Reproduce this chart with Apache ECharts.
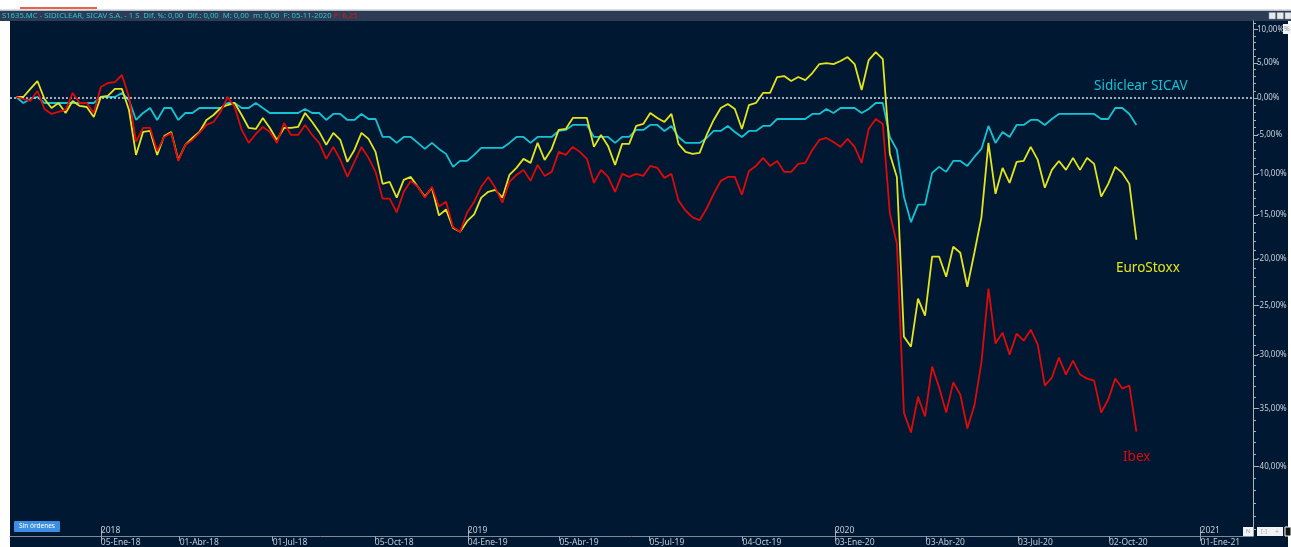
<!DOCTYPE html>
<html><head><meta charset="utf-8">
<script src="https://cdn.jsdelivr.net/npm/echarts@6/dist/echarts.min.js"></script>
<style>html,body{margin:0;padding:0;background:#fff}#c{width:1291px;height:547px}</style>
</head><body><div id="c"></div>
<script>
// Weekly closes, % change, first point is 12 weeks before 05-Ene-18 (week 0)
const firstWeek = -12;
const sidiclear = [
 0.14,-0.69,-0.14,0.14,-0.69,-0.69,-0.69,-0.69,-0.69,-0.69,
 -0.69,-0.69,0.14,0.14,0.14,0.70,-0.28,-3.00,-2.06,-1.38,
 -3.00,-1.38,-1.38,-3.00,-2.06,-2.06,-1.38,-1.38,-1.38,-1.38,
 -0.69,-0.69,-1.38,-1.38,-0.69,-1.38,-2.06,-2.06,-2.06,-2.06,
 -2.06,-1.51,-2.06,-2.06,-3.00,-2.19,-2.19,-3.00,-3.00,-2.19,
 -2.87,-2.87,-5.26,-5.26,-6.04,-5.26,-5.26,-6.04,-6.82,-6.04,
 -6.82,-7.46,-9.11,-8.36,-8.36,-7.59,-6.69,-6.69,-6.69,-6.69,
 -6.04,-5.26,-5.26,-6.04,-5.26,-5.26,-5.26,-4.47,-4.33,-3.67,
 -3.67,-3.67,-5.26,-5.26,-5.26,-6.04,-5.26,-5.26,-4.33,-4.33,
 -3.67,-3.67,-4.47,-3.80,-5.26,-6.04,-6.04,-6.04,-5.39,-4.47,
 -4.47,-3.80,-4.60,-5.26,-4.47,-4.47,-3.80,-3.80,-2.87,-2.87,
 -2.87,-2.87,-2.87,-2.19,-2.19,-1.51,-2.06,-1.38,-1.38,-1.38,
 -2.06,-1.51,-0.69,-0.69,-5.26,-6.95,-12.79,-15.82,-13.74,-13.74,
 -9.87,-9.11,-9.74,-8.36,-8.36,-8.99,-7.85,-6.82,-3.80,-6.04,
 -4.60,-5.26,-3.67,-3.67,-3.00,-3.00,-3.67,-2.87,-2.19,-2.19,
 -2.19,-2.19,-2.19,-2.19,-2.87,-2.87,-1.38,-1.38,-2.19,-3.67
];
const eurostoxx = [
 0.14,0.14,1.26,2.38,-0.14,-1.38,-0.69,-2.06,-0.41,-1.10,
 -1.24,-2.60,0.14,0.28,1.26,1.26,-1.65,-7.59,-4.60,-4.47,
 -7.59,-5.13,-4.60,-8.23,-6.30,-5.39,-4.60,-3.00,-2.33,-1.38,
 -0.97,-0.69,-2.33,-4.07,-4.20,-2.73,-4.07,-5.65,-4.07,-4.07,
 -3.94,-2.06,-3.27,-4.60,-6.30,-4.73,-5.65,-8.48,-6.95,-4.73,
 -5.52,-7.20,-11.23,-10.98,-12.91,-10.74,-10.37,-11.59,-12.79,-11.71,
 -15.03,-14.33,-16.50,-16.94,-15.71,-14.91,-12.91,-12.20,-11.96,-12.91,
 -10.12,-9.24,-8.10,-8.61,-6.04,-8.23,-6.82,-4.33,-4.20,-2.73,
 -2.73,-2.73,-6.56,-5.00,-6.43,-8.86,-6.17,-6.17,-3.80,-3.54,
 -2.06,-2.73,-3.27,-2.19,-6.17,-7.20,-7.46,-7.33,-5.00,-3.00,
 -1.38,-0.83,-1.51,-4.20,-0.97,-0.69,0.70,0.70,2.95,3.09,
 2.38,2.95,2.52,3.52,4.82,4.97,4.82,5.26,5.84,4.82,
 1.11,5.40,6.58,5.55,-7.46,-10.37,-28.18,-29.17,-24.30,-26.06,
 -19.76,-19.76,-21.96,-18.65,-19.32,-23.03,-19.32,-15.26,-6.04,-12.44,
 -9.24,-11.11,-8.48,-8.36,-6.56,-8.23,-11.71,-9.49,-8.36,-9.49,
 -7.97,-9.49,-7.97,-8.74,-12.79,-11.23,-9.11,-9.87,-11.23,-17.85
];
const ibex = [
 0.14,-0.14,-0.41,0.97,-1.51,-2.19,-1.92,-1.65,0.70,-0.69,
 -0.69,-2.06,1.53,2.10,2.24,3.24,0.14,-5.91,-4.07,-4.07,
 -7.08,-5.26,-4.73,-8.36,-6.30,-5.65,-4.73,-3.67,-3.27,-1.92,
 0.14,-1.24,-4.33,-6.04,-4.87,-3.94,-4.60,-6.04,-3.40,-5.00,
 -5.00,-3.67,-5.00,-6.04,-8.10,-6.56,-8.23,-10.37,-8.48,-6.56,
 -7.97,-9.74,-13.03,-13.03,-14.68,-12.20,-10.86,-11.59,-12.91,-11.59,
 -13.98,-13.39,-16.38,-16.94,-14.68,-13.39,-11.59,-10.37,-11.71,-13.51,
 -10.98,-10.12,-9.49,-10.86,-8.86,-10.24,-9.74,-7.20,-7.59,-6.56,
 -7.20,-8.10,-11.11,-9.49,-10.37,-12.20,-9.99,-10.37,-9.99,-10.24,
 -8.99,-9.24,-10.49,-9.99,-13.27,-14.45,-15.26,-15.60,-14.21,-12.44,
 -10.86,-10.37,-10.37,-12.56,-9.62,-8.99,-7.97,-8.99,-8.36,-9.74,
 -9.74,-8.74,-8.61,-6.95,-5.65,-5.39,-5.91,-6.56,-5.52,-6.56,
 -8.61,-4.20,-2.87,-3.54,-14.79,-18.31,-35.36,-37.12,-33.91,-35.71,
 -31.10,-33.08,-35.36,-32.61,-33.72,-36.77,-34.73,-30.72,-23.24,-28.87,
 -27.78,-29.95,-27.88,-28.58,-27.48,-28.97,-32.89,-32.14,-30.24,-31.86,
 -30.53,-31.86,-32.24,-32.43,-35.36,-34.18,-32.24,-33.17,-32.89,-37.04
];
const quarterTickWeeks  = [0, 11.2, 24.4, 38.9, 52.1, 65.1, 77.9, 91.1, 104.2, 117.1, 130.2, 143.1, 156.1];
const quarterTickLabels = ['05-Ene-18','01-Abr-18','01-Jul-18','05-Oct-18','04-Ene-19','05-Abr-19','05-Jul-19','04-Oct-19','03-Ene-20','03-Abr-20','03-Jul-20','02-Oct-20','01-Ene-21'];
const yearTickWeeks  = [0, 52.1, 104.2, 156.1];
const yearTickLabels = ['2018','2019','2020','2021'];
const yTickPct = [10, 5, 0, -5, -10, -15, -20, -25, -30, -35, -40];
const yRangePct = [-45.53, 11.27];
const xRangeWeeks = [-12.89, 163.55];

const toAxis = p => Math.log(1 + p / 100);
const minorPct = [];
for (let p = 11; p >= -45; p--) minorPct.push(p);
const pairs = arr => arr.map((v, k) => [firstWeek + k, toAxis(v)]);
const lookup = (vals, labels) => v => {
  const k = vals.findIndex(w => Math.abs(w - v) < 1e-6);
  return k >= 0 ? labels[k] : '';
};

const FONT = 'Noto Sans';
const C_CYAN = '#14c3d3', C_YEL = '#e4e41c', C_RED = '#de0a0a';
const chart = echarts.init(document.getElementById('c'), null, {renderer: 'canvas'});
chart.setOption({
  animation: false,
  backgroundColor: '#ffffff',
  textStyle: {fontFamily: FONT},
  grid: {left: 10, right: 38, top: 21, bottom: 11, containLabel: false},
  xAxis: [{
    type: 'value', min: xRangeWeeks[0], max: xRangeWeeks[1],
    splitLine: {show: false},
    axisLine: {show: true, onZero: false, lineStyle: {color: '#7d8a9c', width: 1}},
    axisTick: {show: true, length: 5, customValues: quarterTickWeeks, lineStyle: {color: '#9aa6b4'}},
    axisLabel: {customValues: quarterTickWeeks, formatter: lookup(quarterTickWeeks, quarterTickLabels),
      color: '#c4ccd6', fontSize: 8.5, align: 'left', margin: 2, fontFamily: FONT}
  }, {
    type: 'value', min: xRangeWeeks[0], max: xRangeWeeks[1], position: 'bottom', offset: 0,
    splitLine: {show: false}, axisLine: {show: false, onZero: false},
    axisTick: {show: true, inside: true, length: 9, customValues: yearTickWeeks, lineStyle: {color: '#9aa6b4'}},
    axisLabel: {inside: true, customValues: yearTickWeeks, formatter: lookup(yearTickWeeks, yearTickLabels),
      color: '#c4ccd6', fontSize: 8.5, align: 'left', margin: 1, fontFamily: FONT}
  }],
  yAxis: [{
    type: 'value', position: 'right', offset: 0,
    min: toAxis(yRangePct[0]), max: toAxis(yRangePct[1]),
    splitLine: {show: false},
    axisLine: {show: true, onZero: false, lineStyle: {color: '#a9b2be', width: 1}},
    axisTick: {show: true, length: 5, customValues: yTickPct.map(toAxis), lineStyle: {color: '#a9b2be'}},
    axisLabel: {customValues: yTickPct.map(toAxis), color: '#c8d0da', fontSize: 8, margin: 4, fontFamily: FONT,
      formatter: v => Math.round((Math.exp(v) - 1) * 100) + ',00%'}
  }, {
    type: 'value', position: 'right', offset: 0,
    min: toAxis(yRangePct[0]), max: toAxis(yRangePct[1]),
    splitLine: {show: false}, axisLine: {show: false, onZero: false}, axisLabel: {show: false},
    axisTick: {show: true, length: 3, customValues: minorPct.map(toAxis), lineStyle: {color: '#a9b2be'}}
  }],
  series: [
    {name: 'Sidiclear SICAV', type: 'line', data: pairs(sidiclear), showSymbol: false, symbol: 'none',
     lineStyle: {color: C_CYAN, width: 1.8}, z: 3,
     markLine: {silent: true, symbol: 'none', label: {show: false},
       lineStyle: {color: '#d4dbe4', type: [2, 2], width: 1.6}, data: [{yAxis: 0}]}},
    {name: 'EuroStoxx', type: 'line', data: pairs(eurostoxx), showSymbol: false, symbol: 'none',
     lineStyle: {color: C_YEL, width: 1.8}, z: 4},
    {name: 'Ibex', type: 'line', data: pairs(ibex), showSymbol: false, symbol: 'none',
     lineStyle: {color: C_RED, width: 1.8}, z: 5}
  ],
  graphic: [
    {type: 'rect', z: -10, shape: {x: 10, y: 21, width: 1278, height: 526}, style: {fill: '#011833'}},
    {type: 'rect', z: -10, shape: {x: 0, y: 11, width: 1291, height: 10}, style: {fill: '#2d3c55'}},
    {type: 'rect', z: -10, shape: {x: 0, y: 9.5, width: 1291, height: 1.5}, style: {fill: '#b8bec6'}},
    {type: 'rect', z: -10, shape: {x: 20, y: 7, width: 77, height: 2}, style: {fill: '#e8624a'}},
    {type: 'text', z: 50, x: 2, y: 16, style: {
      text: '{c|S1635.MC - SIDICLEAR, SICAV S.A. - 1 S  Dif. %: 0,00  Dif.: 0,00  M: 0,00  m: 0,00  F: 05-11-2020} {r|P: 6,25}',
      verticalAlign: 'middle', font: '7.7px "Noto Sans"',
      rich: {c: {fill: '#2cc4d6', fontSize: 7.7, fontFamily: FONT}, r: {fill: '#e01818', fontSize: 7.7, fontFamily: FONT}}}},
    {type: 'rect', z: 50, shape: {x: 1269, y: 12.5, width: 6.5, height: 6.5}, style: {fill: '#e6e9ee', stroke: '#8d96a3', lineWidth: 0.5}},
    {type: 'rect', z: 50, shape: {x: 1277, y: 12.5, width: 6.5, height: 6.5}, style: {fill: '#e6e9ee', stroke: '#8d96a3', lineWidth: 0.5}},
    {type: 'rect', z: 50, shape: {x: 1285, y: 12.5, width: 6, height: 6.5}, style: {fill: '#e6e9ee', stroke: '#8d96a3', lineWidth: 0.5}},
    {type: 'rect', z: 50, shape: {x: 1283, y: 24, width: 8, height: 10}, style: {fill: '#f2f4f6'}},
    {type: 'text', z: 51, x: 1284, y: 29, style: {text: '%', font: '7px "Noto Sans"', fill: '#8a929c', verticalAlign: 'middle'}},
    {type: 'rect', z: 50, shape: {x: 14, y: 521, width: 46, height: 11, r: 1}, style: {fill: '#3b8fe2'}},
    {type: 'text', z: 51, x: 37, y: 526.5, style: {text: 'Sin órdenes', font: '6.5px "Noto Sans"', fill: '#ffffff', align: 'center', verticalAlign: 'middle'}},
    {type: 'rect', z: 50, shape: {x: 1243, y: 527, width: 10, height: 9}, style: {fill: '#f0f2f4'}},
    {type: 'text', z: 51, x: 1248, y: 531.5, style: {text: 'N', font: '6px "Noto Sans"', fill: '#a0a8b2', align: 'center', verticalAlign: 'middle'}},
    {type: 'rect', z: 50, shape: {x: 1257, y: 527, width: 26, height: 9}, style: {fill: '#f0f2f4'}},
    {type: 'text', z: 51, x: 1264, y: 531.5, style: {text: '[-]', font: '6px "Noto Sans"', fill: '#a0a8b2', align: 'center', verticalAlign: 'middle'}},
    {type: 'text', z: 51, x: 1277, y: 531.5, style: {text: '+', font: '7px "Noto Sans"', fill: '#a0a8b2', align: 'center', verticalAlign: 'middle'}},
    {type: 'rect', z: 50, shape: {x: 1285, y: 527, width: 6, height: 9}, style: {fill: '#111111', stroke: '#ffffff', lineWidth: 1}},
    {type: 'text', z: 60, x: 1094, y: 86, style: {text: 'Sidiclear SICAV', font: '13.5px "Noto Sans"', fill: C_CYAN, verticalAlign: 'middle'}},
    {type: 'text', z: 60, x: 1116, y: 268, style: {text: 'EuroStoxx', font: '13.5px "Noto Sans"', fill: C_YEL, verticalAlign: 'middle'}},
    {type: 'text', z: 60, x: 1123, y: 457, style: {text: 'Ibex', font: '13.5px "Noto Sans"', fill: C_RED, verticalAlign: 'middle'}}
  ]
});
</script></body></html>
